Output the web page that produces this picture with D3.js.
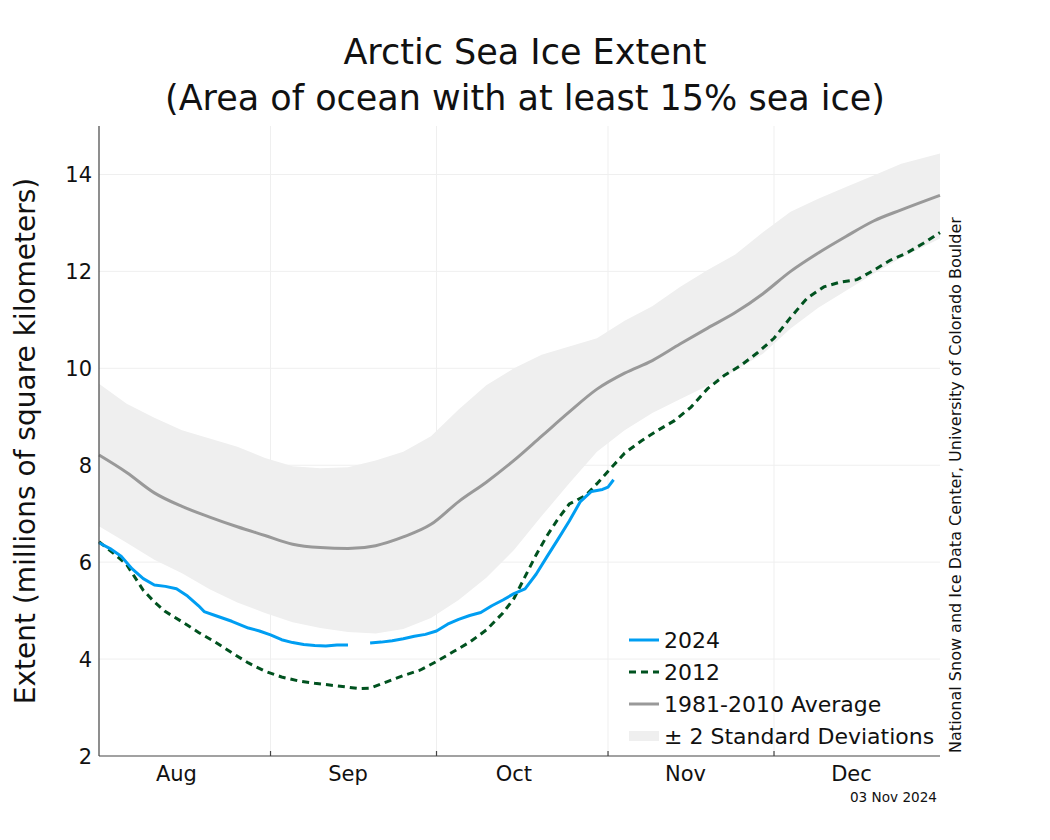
<!DOCTYPE html>
<html>
<head>
<meta charset="utf-8">
<script src="https://cdn.jsdelivr.net/npm/d3@7"></script>
<style>
  body { margin: 0; background: #fff; }
  svg { display: block; font-family: "DejaVu Sans", sans-serif; }
</style>
</head>
<body>
<svg id="chart" width="1050" height="840"></svg>
<script>
// ---- Data (day offsets from Aug 1, values in millions of km²) ----
const bandDays = [0,5,10,15,20,25,30,35,40,45,50,55,60,65,70,75,80,85,90,95,100,105,110,115,120,125,130,135,140,145,152];
const avgValues = [8.21,7.85,7.43,7.15,6.93,6.73,6.55,6.37,6.30,6.28,6.34,6.52,6.78,7.25,7.65,8.10,8.60,9.10,9.57,9.90,10.16,10.50,10.83,11.15,11.54,12.00,12.38,12.72,13.04,13.27,13.57];
const upperValues = [9.68,9.27,8.98,8.72,8.55,8.38,8.15,7.98,7.94,7.96,8.10,8.28,8.60,9.15,9.65,10.00,10.28,10.45,10.62,10.98,11.28,11.68,12.03,12.35,12.81,13.23,13.50,13.74,13.98,14.22,14.43];
const lowerValues = [6.74,6.40,6.05,5.77,5.44,5.17,4.95,4.76,4.64,4.56,4.53,4.62,4.85,5.22,5.68,6.25,6.95,7.63,8.28,8.72,9.08,9.36,9.64,9.96,10.30,10.82,11.25,11.60,11.95,12.28,12.68];

const days2012 = [0,3,5,8,10,12,15,18,21,24,27,30,33,36,39,42,45,47,49,52,55,58,61,64,67,70,73,75,77,79,81,83,85,88,90,93,95,98,101,104,107,110,113,116,119,122,125,128,131,134,137,140,143,146,149,152];
const values2012 = [6.42,6.15,5.95,5.42,5.18,4.98,4.77,4.55,4.35,4.13,3.92,3.75,3.63,3.55,3.50,3.46,3.42,3.39,3.40,3.53,3.66,3.77,3.95,4.15,4.35,4.60,4.95,5.25,5.70,6.15,6.55,6.90,7.20,7.38,7.62,8.00,8.25,8.50,8.72,8.92,9.20,9.58,9.85,10.06,10.32,10.62,11.05,11.45,11.68,11.78,11.83,12.02,12.23,12.38,12.58,12.80];

const days2024 = [0,2,4,6,8,10,12,14,16,18,19,21,24,27,29,31,33,35,37,39,41,43,45,47,49,51,53,55,57,59,61,63,65,67,69,71,73,75,77,79,81,83,85,87,89,91,92,93];
const values2024 = [6.40,6.28,6.12,5.86,5.66,5.53,5.50,5.45,5.30,5.10,4.98,4.90,4.78,4.64,4.58,4.50,4.40,4.34,4.30,4.28,4.27,4.29,4.29,null,4.33,4.35,4.38,4.42,4.47,4.51,4.58,4.72,4.82,4.90,4.96,5.10,5.22,5.35,5.45,5.75,6.12,6.48,6.85,7.25,7.46,7.50,7.55,7.70];

const yTicks = [2,4,6,8,10,12,14];
const monthLabels = ["Aug","Sep","Oct","Nov","Dec"];
const monthStarts = ["2024-08-01","2024-09-01","2024-10-01","2024-11-01","2024-12-01"];
const titleLines = ["Arctic Sea Ice Extent","(Area of ocean with at least 15% sea ice)"];
const legendLabels = ["2024","2012","1981-2010 Average","± 2 Standard Deviations"];

// ---- Layout ----
const svg = d3.select("#chart");
const pL = 99, pR = 940, pT = 126, pB = 756;
const startDate = new Date(2024, 7, 1);
const dayDate = d => d3.timeDay.offset(startDate, d);
const x = d3.scaleTime().domain([startDate, new Date(2024, 11, 31)]).range([pL, pR]);
const y = d3.scaleLinear().domain([2, 15]).range([pB, pT]);

// grid
const monthDates = monthStarts.map(s => d3.timeParse("%Y-%m-%d")(s));
svg.append("g").selectAll("line").data(yTicks.filter(t => t > 2)).join("line")
  .attr("x1", pL).attr("x2", pR).attr("y1", d => y(d)).attr("y2", d => y(d))
  .attr("stroke", "#efefef").attr("stroke-width", 1);
svg.append("g").selectAll("line").data(monthDates.slice(1)).join("line")
  .attr("x1", d => x(d)).attr("x2", d => x(d)).attr("y1", pT).attr("y2", pB)
  .attr("stroke", "#efefef").attr("stroke-width", 1);

// band
const bandData = bandDays.map((d, i) => ({d, lo: lowerValues[i], hi: upperValues[i]}));
svg.append("path").datum(bandData)
  .attr("fill", "#efefef")
  .attr("d", d3.area().x(p => x(dayDate(p.d))).y0(p => y(p.lo)).y1(p => y(p.hi)));

// average
const avgData = bandDays.map((d, i) => ({d, v: avgValues[i]}));
const line = d3.line().defined(p => p.v != null).x(p => x(dayDate(p.d))).y(p => y(p.v));
const smoothLine = d3.line().curve(d3.curveMonotoneX).x(p => x(dayDate(p.d))).y(p => y(p.v));
svg.append("path").datum(avgData).attr("fill", "none").attr("stroke", "#999999").attr("stroke-width", 3).attr("d", smoothLine);

// 2012
const d2012 = days2012.map((d, i) => ({d, v: values2012[i]}));
svg.append("path").datum(d2012).attr("fill", "none").attr("stroke", "#00521f").attr("stroke-width", 3)
  .attr("stroke-dasharray", "7,5").attr("d", line);

// 2024
const d2024 = days2024.map((d, i) => ({d, v: values2024[i]}));
svg.append("path").datum(d2024).attr("fill", "none").attr("stroke", "#009ef2").attr("stroke-width", 3)
  .attr("stroke-linejoin", "round").attr("d", line);

// axes
svg.append("line").attr("x1", pL).attr("x2", pL).attr("y1", pT).attr("y2", pB).attr("stroke", "#444").attr("stroke-width", 1.2);
svg.append("line").attr("x1", pL).attr("x2", pR).attr("y1", pB).attr("y2", pB).attr("stroke", "#444").attr("stroke-width", 1.2);
svg.append("g").selectAll("line").data(monthDates.slice(1)).join("line")
  .attr("x1", d => x(d)).attr("x2", d => x(d)).attr("y1", pB - 5).attr("y2", pB)
  .attr("stroke", "#444").attr("stroke-width", 1.2);

svg.append("g").selectAll("text").data(yTicks).join("text")
  .attr("x", pL - 7).attr("y", d => y(d)).attr("dy", "0.36em")
  .attr("text-anchor", "end").attr("font-size", 21).attr("fill", "#111")
  .text(d => d);

svg.append("g").selectAll("text").data(monthLabels).join("text")
  .attr("x", (d, i) => x(d3.timeDay.offset(monthDates[i], 14)))
  .attr("y", 781).attr("text-anchor", "middle").attr("font-size", 21).attr("fill", "#111")
  .text(d => d);

// titles
svg.append("g").selectAll("text").data(titleLines).join("text")
  .attr("x", 525).attr("y", (d, i) => 64 + i * 46).attr("text-anchor", "middle")
  .attr("font-size", 35).attr("fill", "#111").text(d => d);

svg.append("text").attr("transform", "translate(35,441) rotate(-90)")
  .attr("text-anchor", "middle").attr("font-size", 28).attr("fill", "#111")
  .text("Extent (millions of square kilometers)");

svg.append("text").attr("transform", "translate(961,485) rotate(-90)")
  .attr("text-anchor", "middle").attr("font-size", 16).attr("fill", "#111")
  .text("National Snow and Ice Data Center, University of Colorado Boulder");

svg.append("text").attr("x", 937).attr("y", 802).attr("text-anchor", "end")
  .attr("font-size", 13.6).attr("fill", "#111").text("03 Nov 2024");

// legend
const lg = svg.append("g");
const ly0 = 640, lstep = 32;
const styles = [
  {stroke: "#009ef2", w: 3, dash: null},
  {stroke: "#00521f", w: 3, dash: "7,5"},
  {stroke: "#999999", w: 3, dash: null},
  {stroke: "#efefef", w: 10, dash: null}
];
legendLabels.forEach((lab, i) => {
  const yy = ly0 + i * lstep;
  lg.append("line").attr("x1", 629).attr("x2", 659).attr("y1", yy).attr("y2", yy)
    .attr("stroke", styles[i].stroke).attr("stroke-width", styles[i].w)
    .attr("stroke-dasharray", styles[i].dash);
  lg.append("text").attr("x", 664).attr("y", yy).attr("dy", "0.36em")
    .attr("font-size", 22).attr("fill", "#111").text(lab);
});
</script>
</body>
</html>
